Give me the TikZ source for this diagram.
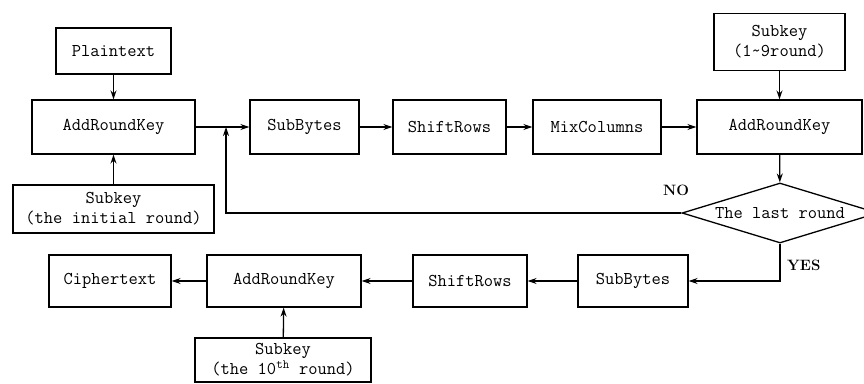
\documentclass[tikz,border=0pt]{standalone}
\usetikzlibrary{shapes.geometric,arrows.meta}
\def\boxfont{\fontsize{18}{20}\selectfont\ttfamily}
\def\tagfont{\fontsize{15}{17}\selectfont\rmfamily\bfseries}

\begin{document}
\begin{tikzpicture}[x=1pt,y=-1pt,
        blk/.style={draw,rectangle,line width=1.3pt,minimum height=54pt,inner sep=0pt,font=\boxfont,align=center},
        arr/.style={line width=1.3pt,-{Stealth[length=9pt,width=6pt]}},
        tag/.style={font=\tagfont,inner sep=0pt}]
                \clip (0,0) rectangle (864,383);
                \begin{scope}
                    \node[blk,minimum width=115pt,minimum height=46pt] (plain) at (113.5,51) {Plaintext};
                    \node[blk,minimum width=163pt] (ark1) at (113.5,127) {AddRoundKey};
                    \node[blk,minimum width=201pt,minimum height=48pt] (key0) at (113.5,209) {Subkey\\(the initial round)};
                    \node[blk,minimum width=109pt] (sb1) at (304.5,127) {SubBytes};
                    \node[blk,minimum width=113pt] (sr1) at (449.5,127) {ShiftRows};
                    \node[blk,minimum width=128pt] (mc) at (597,127) {MixColumns};
                    \node[blk,minimum width=165pt] (ark2) at (779.5,127) {AddRoundKey};
                    \node[blk,minimum width=131pt,minimum height=57pt] (key9) at (779.5,42) {Subkey\\(1\textasciitilde9round)};
                    \node[draw,diamond,line width=1.3pt,minimum width=196pt,minimum height=60pt,inner sep=0pt,font=\boxfont] (last) at (780,213) {\makebox[0pt]{The last round}};
                    \coordinate (back) at (226,127);
                \end{scope}
                \begin{scope}
                    \node[blk,minimum width=122pt,minimum height=52pt] (ct) at (110,281) {Ciphertext};
                    \node[blk,minimum width=154pt,minimum height=52pt] (ark3) at (284,281) {AddRoundKey};
                    \node[blk,minimum width=114pt,minimum height=52pt] (sr2) at (470,281) {ShiftRows};
                    \node[blk,minimum width=110pt,minimum height=52pt] (sb2) at (633,281) {SubBytes};
                    \node[blk,minimum width=176pt,minimum height=44pt] (key10) at (283,360) {Subkey\\(the 10\textsuperscript{th} round)};
                \end{scope}
                \draw[arr] (plain) -- (ark1);
                \draw[arr] (key0) -- (ark1);
                \draw[arr] (ark1) -- (sb1);
                \draw[arr] (sb1) -- (sr1);
                \draw[arr] (sr1) -- (mc);
                \draw[arr] (mc) -- (ark2);
                \draw[arr] (key9) -- (ark2);
                \draw[arr] (ark2) -- (last);
                \draw[arr] (last.west) -| (back);
                \draw[arr] (last.south) |- (sb2.east);
                \draw[arr] (sb2) -- (sr2);
                \draw[arr] (sr2) -- (ark3);
                \draw[arr] (ark3) -- (ct);
                \draw[arr] (key10) -- (ark3);
                \node[tag,anchor=west] (no) at (663,190) {NO};
                \node[tag,anchor=west] (yes) at (787,265) {YES};
            \end{tikzpicture}
\end{document}
